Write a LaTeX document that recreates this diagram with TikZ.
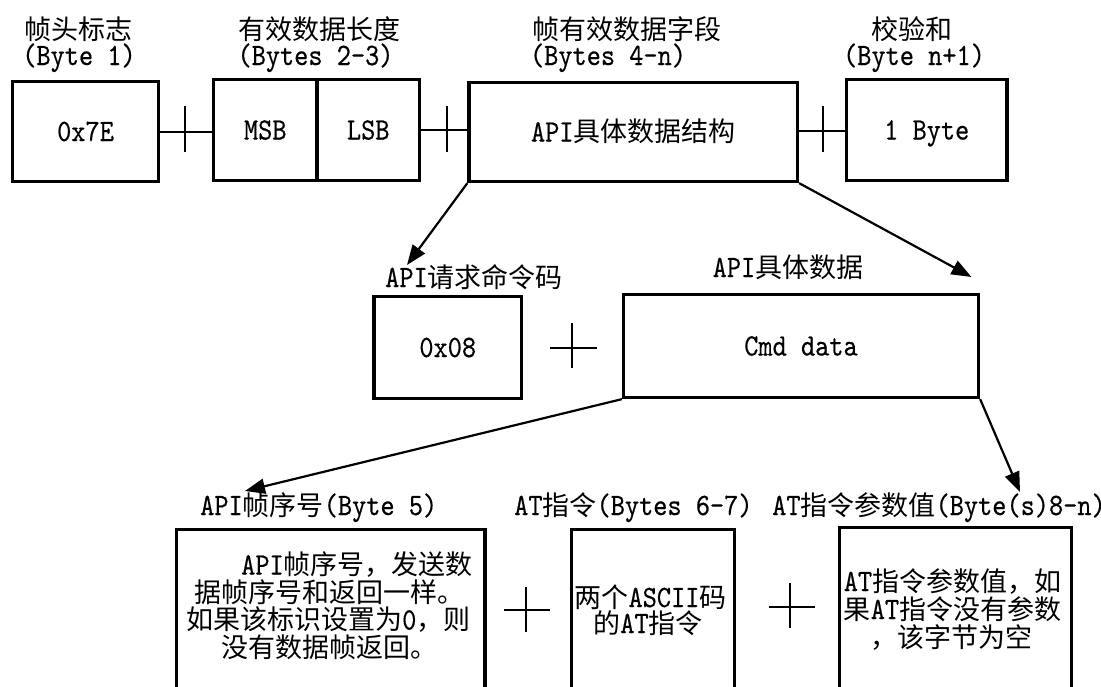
\documentclass[tikz,border=0pt]{standalone}
\usepackage{fontspec}
\setmonofont{lmmono10-regular}[Extension=.otf, Scale=1.15, FakeStretch=0.87, FakeBold=0.4]
\newfontfamily\cjk{Noto Sans CJK SC}
\usetikzlibrary{arrows.meta}
\newcommand\zh[1]{{\cjk #1}}
\begin{document}
\begin{tikzpicture}[x=1pt,y=-1pt,
  txt/.style={font=\ttfamily\fontsize{27pt}{27pt}\selectfont, inner sep=0pt, anchor=base},
  box/.style={draw, line width=3.3pt, inner sep=0pt, text height=19pt, text depth=0pt,
              font=\ttfamily\fontsize{27pt}{27pt}\selectfont},
  openbox/.style={draw, line width=3.1pt, inner sep=0pt},
  plusline/.style={line width=2pt},
  arr/.style={line width=2.2pt, -{Triangle[length=20pt,width=15pt]}}]
\useasboundingbox (0,0) rectangle (1101,686);
\fill[white] (0,0) rectangle (1101,686);

% top row
\node[box, minimum width=146.5, minimum height=99.6] (b1) at (85.5,131.5) {0x7E};
\node[box, minimum width=103.5, minimum height=101] (msb) at (265.25,130) {MSB};
\node[box, minimum width=102.5, minimum height=101] (lsb) at (368.25,130) {LSB};
\node[box, minimum width=328.5, minimum height=99] (api) at (633.25,132) {API\zh{具体数据结构}};
\node[box, minimum width=160.5, minimum height=101] (chk) at (926.75,130) {1 Byte};

\node[txt] (l1a) at (78,39) {\zh{帧头标志}};
\node[txt] (l1b) at (79,65) {(Byte 1)};
\node[txt] (l2a) at (319,39) {\zh{有效数据长度}};
\node[txt] (l2b) at (315.5,65) {(Bytes 2-3)};
\node[txt] (l3a) at (627,39) {\zh{帧有效数据字段}};
\node[txt] (l3b) at (608,65) {(Bytes 4-n)};
\node[txt] (l4a) at (911.5,39) {\zh{校验和}};
\node[txt] (l4b) at (914,65) {(Byte n+1)};

% plus signs, top row
\draw[plusline] (b1.east) -- (b1.east -| msb.west);
\draw[plusline] (185,106) -- (185,152);
\draw[plusline] (lsb.east) -- (lsb.east -| api.west);
\draw[plusline] (446.5,106) -- (446.5,152);
\draw[plusline] (api.east |- 0,131) -- (chk.west |- 0,131);
\draw[plusline] (823,106) -- (823,152);

% middle row
\node[txt] (l5) at (474,287) {API\zh{请求命令码}};
\node[txt] (l6) at (788,277) {API\zh{具体数据}};
\node[box, minimum width=147.5, minimum height=102] (cmd) at (447.75,347.5) {0x08};
\node[box, minimum width=355, minimum height=103] (data) at (801,346) {Cmd data};
\draw[plusline] (550,348) -- (597,348);
\draw[plusline] (572,323) -- (572,368);

\coordinate (t1) at (407,265);
\coordinate (t2) at (971.5,277);
\draw[arr] (api.south west) -- (t1);
\draw[arr] (api.south east) -- (t2);

% bottom row
\coordinate (t3) at (245,491);
\coordinate (t4) at (1020,492);
\draw[arr] (data.south west) -- (t3);
\draw[arr] (data.south east) -- (t4);

\node[txt, anchor=base west] (l7) at (200,515) {API\zh{帧序号}(Byte 5)};
\node[txt, anchor=base west] (l8) at (514,515) {AT\zh{指令}(Bytes 6-7)};
\node[txt, anchor=base west] (l9) at (772,515) {AT\zh{指令参数值}(Byte(s)8-n)};

\node[openbox, minimum width=308.5, minimum height=190.5] (bA) at (330.75,624.75) {};
\node[openbox, minimum width=163, minimum height=190.5] (bB) at (653,624.75) {};
\node[openbox, minimum width=232, minimum height=192.5] (bC) at (955.5,623.75) {};

\node[txt, anchor=base west] (a1) at (241,574.5) {API\zh{帧序号，发送数}};
\node[txt, anchor=base west] (a2) at (194,602) {\zh{据帧序号和返回一样。}};
\node[txt, anchor=base west] (a3) at (186,629.5) {\zh{如果该标识设置为}0\zh{，则}};
\node[txt, anchor=base west] (a4) at (221,657) {\zh{没有数据帧返回。}};

\node[txt] (c1) at (650.5,607) {\zh{两个}ASCII\zh{码}};
\node[txt] (c2) at (648,633) {\zh{的}AT\zh{指令}};

\node[txt] (d1) at (952.5,591) {AT\zh{指令参数值，如}};
\node[txt] (d2) at (952.5,619) {\zh{果}AT\zh{指令没有参数}};
\node[txt] (d3) at (951.5,647) {\zh{，该字节为空}};

\draw[plusline] (504,610) -- (550,610);
\draw[plusline] (526,587) -- (526,632);
\draw[plusline] (768.5,607) -- (814.5,607);
\draw[plusline] (790,583) -- (790,628);
\end{tikzpicture}
\end{document}
